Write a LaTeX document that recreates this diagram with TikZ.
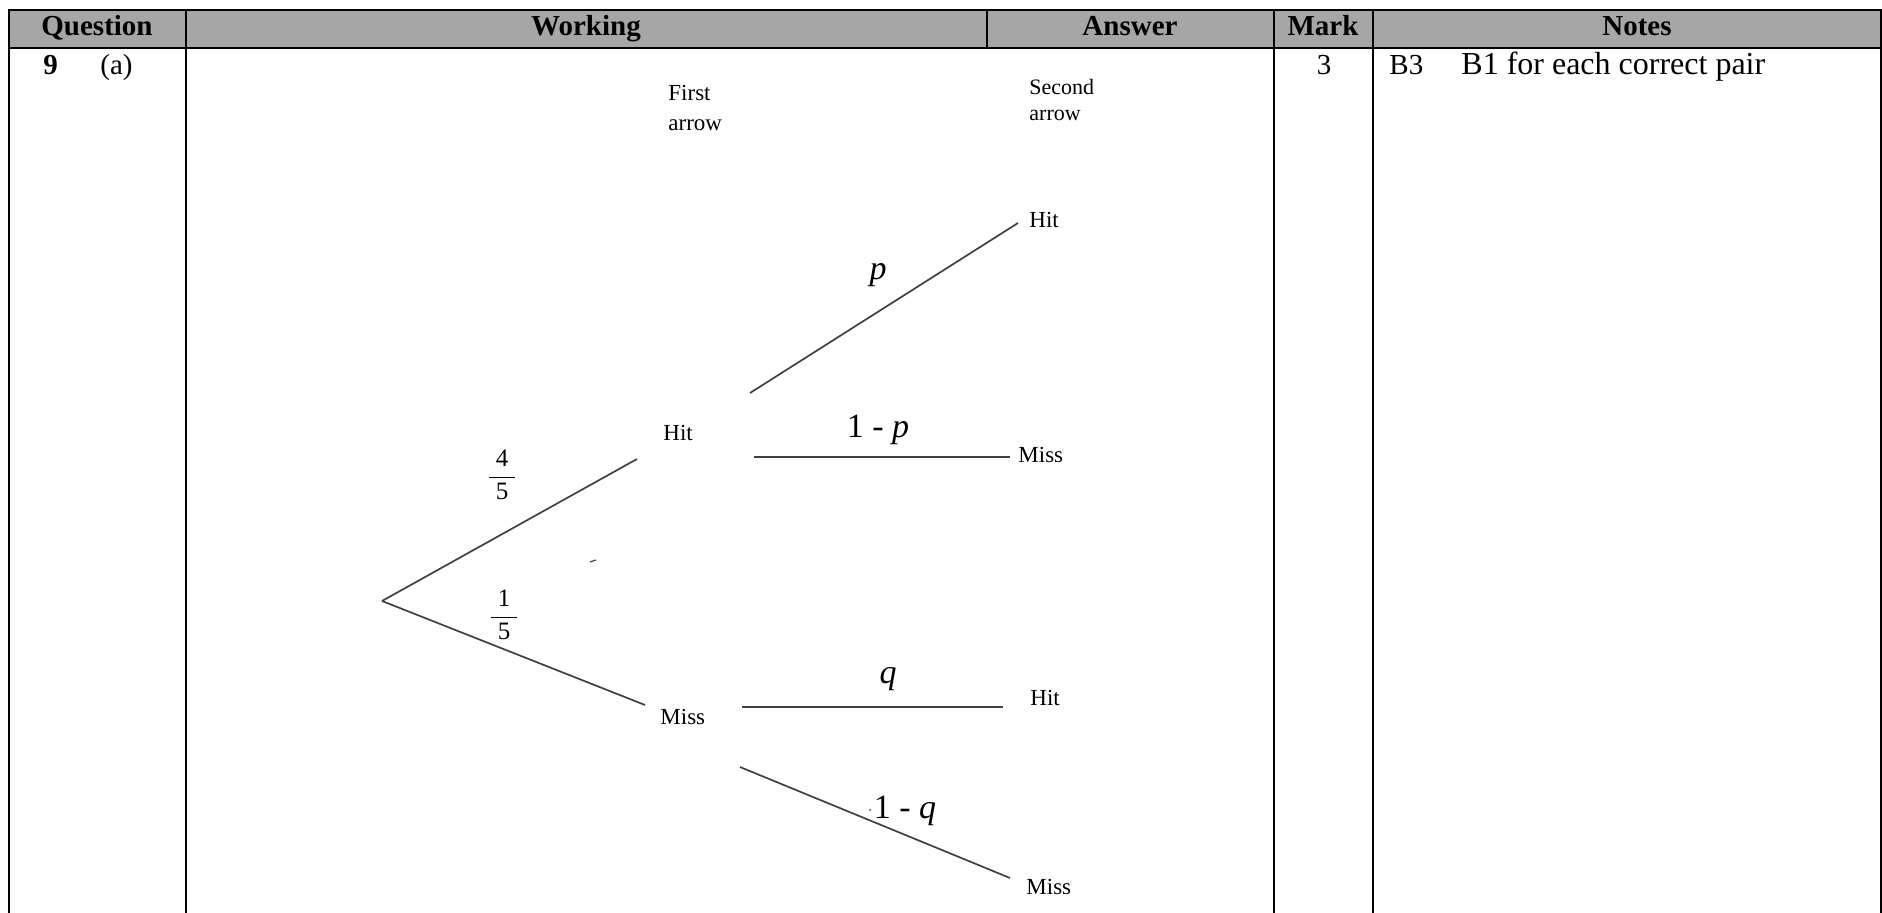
\documentclass[tikz,border=0pt]{standalone}
\usepackage{fontspec}
\setmainfont{Liberation Serif}
\usepackage{tikz}
\definecolor{headgray}{RGB}{166,166,166}
\newcommand{\branchcolor}{black!75}
\newcommand{\rulecolor}{black}
\newcommand{\branchwidth}{0.85pt}
\newcommand{\rulewidth}{1pt}

\begin{document}
\begin{tikzpicture}[x=0.5pt, y=-0.5pt,
  head/.style={anchor=base, inner sep=0pt, font=\fontsize{14.5}{17}\selectfont\bfseries},
  cell/.style={anchor=base west, inner sep=0pt, font=\fontsize{14.5}{17}\selectfont},
  leaf/.style={anchor=base west, inner sep=0pt, font=\fontsize{11.5}{13}\selectfont},
  prob/.style={anchor=base, inner sep=0pt, font=\fontsize{17}{20}\selectfont},
  frac/.style={inner sep=0pt, font=\fontsize{12.5}{15}\selectfont}]
\useasboundingbox (0, 0) rectangle (1882, 913);
%table
\fill[headgray] (9, 10) rectangle (1881, 48);
\draw[\rulecolor] [line width = \rulewidth] (8, 10) -- (1882, 10);
\draw[\rulecolor] [line width = \rulewidth] (8, 48) -- (1882, 48);
\draw[\rulecolor] [line width = \rulewidth] (9, 10) -- (9, 913);
\draw[\rulecolor] [line width = \rulewidth] (186, 10) -- (186, 913);
\draw[\rulecolor] [line width = \rulewidth] (987, 10) -- (987, 48);
\draw[\rulecolor] [line width = \rulewidth] (1274, 10) -- (1274, 913);
\draw[\rulecolor] [line width = \rulewidth] (1373, 10) -- (1373, 913);
\draw[\rulecolor] [line width = \rulewidth] (1881, 10) -- (1881, 913);
\node[head] (hq) at (97, 36) {Question};
\node[head] (hw) at (586, 36) {Working};
\node[head] (ha) at (1130, 36) {Answer};
\node[head] (hm) at (1323, 36) {Mark};
\node[head] (hn) at (1637, 36) {Notes};
\node[cell, font=\fontsize{14.5}{17}\selectfont\bfseries] (q9) at (43, 75) {9};
\node[cell] (qa) at (100, 75) {(a)};
\node[cell, anchor=base] (m3) at (1324, 75) {3};
\node[cell] (b3) at (1389, 75) {B3};
\node[cell, font=\fontsize{16}{19}\selectfont] (b1) at (1461, 75) {B1 for each correct pair};
%tree
\node[leaf] (first) at (668, 101) {First};
\node[leaf] (firsta) at (668, 131) {arrow};
\node[leaf, font=\fontsize{11}{13}\selectfont] (second) at (1029, 95) {Second};
\node[leaf, font=\fontsize{11}{13}\selectfont] (seconda) at (1029, 121) {arrow};
\coordinate (0) at (382, 601);
\coordinate (1e) at (637, 459);
\coordinate (2e) at (645, 705);
\node[leaf] (1) at (663, 441) {Hit};
\node[leaf] (2) at (660, 724) {Miss};
\coordinate (3s) at (750, 393);
\coordinate (3e) at (1018, 223);
\coordinate (4s) at (754, 457);
\coordinate (4e) at (1010, 457);
\coordinate (5s) at (742, 707);
\coordinate (5e) at (1003, 707);
\coordinate (6s) at (740, 767);
\coordinate (6e) at (1010, 878);
\node[leaf] (3) at (1029, 228) {Hit};
\node[leaf] (4) at (1018, 463) {Miss};
\node[leaf] (5) at (1030, 705) {Hit};
\node[leaf] (6) at (1026, 894) {Miss};
\draw[\branchcolor] [line width = \branchwidth] (0) -- (1e);
\draw[\branchcolor] [line width = \branchwidth] (0) -- (2e);
\draw[\branchcolor] [line width = \branchwidth] (3s) -- (3e);
\draw[\branchcolor] [line width = \branchwidth] (4s) -- (4e);
\draw[\branchcolor] [line width = \branchwidth] (5s) -- (5e);
\draw[\branchcolor] [line width = \branchwidth] (6s) -- (6e);
%probabilities
\node[frac] (p1) at (502, 475) {$\displaystyle\frac{\makebox[13pt]{4}}{\makebox[13pt]{5}}$};
\node[frac] (p2) at (504, 615) {$\displaystyle\frac{\makebox[13pt]{1}}{\makebox[13pt]{5}}$};
\node[prob] (p3) at (878, 280) {\textit{p}};
\node[prob] (p4) at (878, 438) {1 - \textit{p}};
\node[prob] (p5) at (888, 683) {\textit{q}};
\node[prob] (p6) at (905, 818) {1 - \textit{q}};
\fill[\branchcolor] (870, 810) circle (1);
\draw[\branchcolor] [line width = 0.6pt] (590, 562) -- (596, 560);
\end{tikzpicture}
\end{document}
